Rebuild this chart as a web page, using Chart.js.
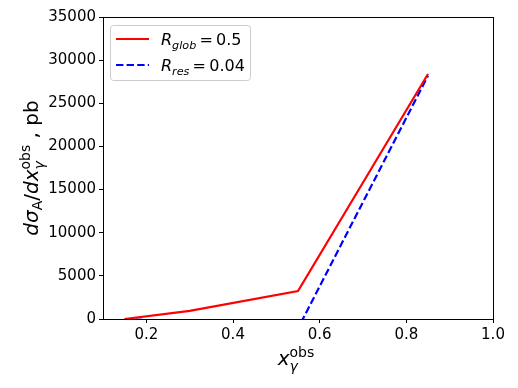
<!DOCTYPE html>
<html>
<head>
<meta charset="utf-8">
<script src="https://cdn.jsdelivr.net/npm/chart.js@4.4.0/dist/chart.umd.min.js"></script>
<style>
  html, body { margin: 0; padding: 0; background: #fff; }
  #wrap { width: 518px; height: 388px; position: relative; }
</style>
</head>
<body>
<div id="wrap"><canvas id="grafico" width="518" height="388"></canvas></div>
<script>
// datos
const xGlob = [0.15, 0.3, 0.55, 0.85];
const yGlob = [0, 950, 3250, 28400];
const xRes = [0.15, 0.3, 0.55, 0.85];
const yRes = [0, -400, -1100, 28200];
const xTicks = [0.2, 0.4, 0.6, 0.8, 1.0];
const yTicks = [0, 5000, 10000, 15000, 20000, 25000, 30000, 35000];

const FONT = "'DejaVu Sans', sans-serif";

function puntos(xs, ys) {
  return xs.map((x, i) => ({ x: x, y: ys[i] }));
}

// dibuja texto con sub/superindices (tramos)
function medirTramos(ctx, tramos, size) {
  let w = 0;
  tramos.forEach(t => {
    const s = size * (t.esc || 1);
    ctx.font = (t.it ? "italic " : "") + s + "px " + FONT;
    w += ctx.measureText(t.t).width;
  });
  return w;
}
function dibujarTramos(ctx, tramos, x, y, size) {
  tramos.forEach(t => {
    const s = size * (t.esc || 1);
    ctx.font = (t.it ? "italic " : "") + s + "px " + FONT;
    ctx.fillText(t.t, x, y + (t.dy || 0) * size);
    x += ctx.measureText(t.t).width;
  });
  return x;
}

const tituloY = [
  { t: "d", it: true }, { t: "σ", it: true }, { t: "A", esc: 0.7, dy: 0.22 },
  { t: "/" }, { t: "d", it: true }, { t: "x", it: true },
  { t: "obs", esc: 0.7, dy: -0.42 }, { t: " , pb" }
];
const tituloX = [
  { t: "x", it: true }, { t: "obs", esc: 0.7, dy: -0.42 }
];
const leyenda = [
  { color: "red", dash: [], tramos: [{ t: "R", it: true }, { t: "glob", it: true, esc: 0.7, dy: 0.22 }, { t: "\u2009=\u20090.5" }] },
  { color: "blue", dash: [7.4, 3.2], tramos: [{ t: "R", it: true }, { t: "res", it: true, esc: 0.7, dy: 0.22 }, { t: "\u2009=\u20090.04" }] }
];

const extras = {
  id: "extras",
  afterDatasetsDraw(chart) {
    const ctx = chart.ctx;
    const a = chart.chartArea;
    ctx.save();
    // marco
    ctx.strokeStyle = "#000";
    ctx.lineWidth = 1;
    ctx.strokeRect(Math.round(a.left) + 0.5, Math.round(a.top) + 0.5, Math.round(a.right - a.left), Math.round(a.bottom - a.top));

    // leyenda
    const lx = 110.5, ly = 25.5, lw = 140, lh = 55;
    ctx.fillStyle = "rgba(255,255,255,0.8)";
    ctx.strokeStyle = "#cccccc";
    ctx.beginPath();
    ctx.roundRect(lx, ly, lw, lh, 3);
    ctx.fill();
    ctx.stroke();
    leyenda.forEach((e, i) => {
      const yy = 39 + i * 26;
      ctx.strokeStyle = e.color;
      ctx.lineWidth = 2;
      ctx.setLineDash(e.dash);
      ctx.beginPath();
      ctx.moveTo(116, yy);
      ctx.lineTo(149, yy);
      ctx.stroke();
      ctx.setLineDash([]);
      ctx.fillStyle = "#000";
      ctx.textBaseline = "alphabetic";
      dibujarTramos(ctx, e.tramos, 161, yy + 6, 16);
    });

    // titulo eje x
    ctx.fillStyle = "#000";
    const sx = 20;
    const wx = medirTramos(ctx, tituloX, sx);
    let px = (a.left + a.right) / 2 - wx / 2 - 2;
    ctx.font = "italic " + sx + "px " + FONT;
    ctx.fillText("x", px, 365);
    const wxx = ctx.measureText("x").width;
    ctx.font = "italic " + (sx * 0.7) + "px " + FONT;
    ctx.fillText("γ", px + wxx, 365 + 0.3 * sx);
    ctx.font = (sx * 0.7) + "px " + FONT;
    ctx.fillText("obs", px + wxx, 365 - 0.42 * sx);

    // titulo eje y (rotado)
    ctx.translate(38, (a.top + a.bottom) / 2);
    ctx.rotate(-Math.PI / 2);
    const sy = 20;
    const wy = medirTramos(ctx, tituloY, sy);
    let qx = -wy / 2;
    qx = dibujarTramos(ctx, tituloY.slice(0, 6), qx, 0, sy);
    ctx.font = "italic " + (sy * 0.7) + "px " + FONT;
    ctx.fillText("γ", qx, 0.3 * sy);
    dibujarTramos(ctx, tituloY.slice(6), qx, 0, sy);
    ctx.restore();
  }
};

const ctx = document.getElementById("grafico").getContext("2d");
const grafico = new Chart(ctx, {
  type: "line",
  data: {
    datasets: [
      {
        label: "R_glob = 0.5",
        data: puntos(xGlob, yGlob),
        borderColor: "red",
        borderWidth: 2.2,
        pointRadius: 0,
        fill: false,
        clip: 0
      },
      {
        label: "R_res = 0.04",
        data: puntos(xRes, yRes),
        borderColor: "blue",
        borderWidth: 2.2,
        borderDash: [7.4, 3.2],
        pointRadius: 0,
        fill: false,
        clip: 0
      }
    ]
  },
  options: {
    animation: false,
    responsive: false,
    layout: { padding: { left: 0, top: 17, right: 25, bottom: 0 } },
    plugins: { legend: { display: false }, tooltip: { enabled: false } },
    scales: {
      x: {
        type: "linear",
        min: 0.1,
        max: 1.0,
        afterBuildTicks: s => { s.ticks = xTicks.map(v => ({ value: v })); },
        afterFit: s => { s.height = 69; },
        grid: { drawOnChartArea: false, drawTicks: true, tickLength: 4, color: "#000" },
        border: { display: true, color: "#000" },
        ticks: {
          color: "#000",
          padding: 3,
          font: { family: FONT, size: 15 },
          callback: v => v.toFixed(1),
          maxRotation: 0
        }
      },
      y: {
        min: 0,
        max: 35000,
        afterBuildTicks: s => { s.ticks = yTicks.map(v => ({ value: v })); },
        afterFit: s => { s.width = 103; },
        grid: { drawOnChartArea: false, drawTicks: true, tickLength: 4, color: "#000" },
        border: { display: true, color: "#000" },
        ticks: {
          color: "#000",
          padding: 3,
          font: { family: FONT, size: 15 },
          callback: v => String(v)
        }
      }
    }
  },
  plugins: [extras]
});
</script>
</body>
</html>
